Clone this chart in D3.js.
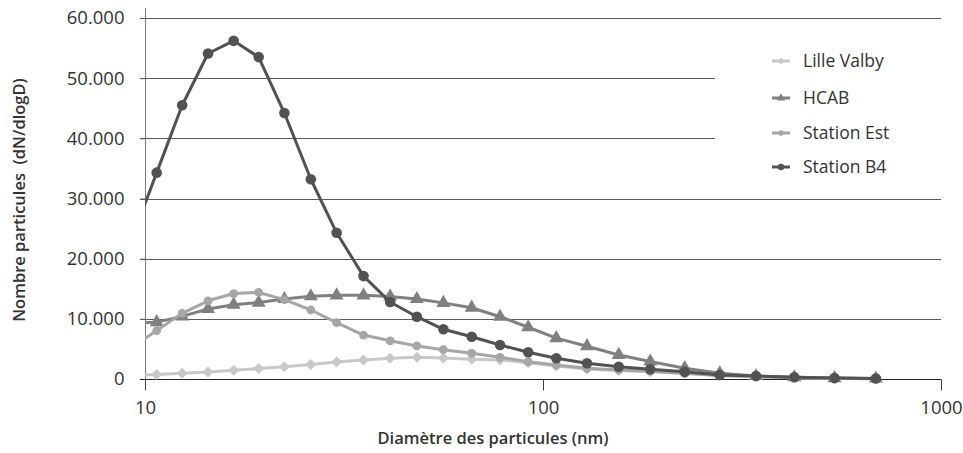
<!DOCTYPE html>
<html>
<head>
<meta charset="utf-8">
<script src="https://cdn.jsdelivr.net/npm/d3@7"></script>
<style>
  html, body { margin: 0; padding: 0; background: #fff; }
  svg { display: block; font-family: "Open Sans", "Noto Sans", sans-serif; }
</style>
</head>
<body>
<svg id="chart" width="963" height="453"></svg>
<script>
// Particle size distribution
const diameters = [9.19, 10.7, 12.4, 14.4, 16.7, 19.3, 22.4, 26.1, 30.3, 35.4, 41.3, 48.2, 56.2,
  66.2, 78, 91.8, 108, 129, 155, 186, 227, 278, 343, 428, 540, 686];

const lilleValby = [550, 750, 950, 1150, 1450, 1750, 2050, 2400, 2830, 3160, 3440, 3600, 3500,
  3270, 3160, 2710, 2160, 1660, 1400, 1200, 900, 580, 380, 200, 100, 50];
const hcab = [9300, 9450, 10400, 11650, 12350, 12700, 13300, 13750, 13900, 13900, 13700, 13300, 12650,
  11850, 10350, 8600, 6800, 5450, 4000, 2900, 1800, 950, 500, 280, 150, 80];
const stationEst = [5100, 8050, 10920, 13000, 14200, 14380, 13200, 11470, 9360, 7300, 6350, 5500, 4870,
  4270, 3600, 2880, 2330, 1780, 1500, 1300, 950, 600, 400, 220, 120, 60];
const stationB4 = [22700, 34300, 45500, 54100, 56200, 53500, 44200, 33200, 24300, 17100, 12800, 10350, 8260,
  7030, 5650, 4440, 3440, 2610, 2040, 1610, 1210, 660, 500, 280, 150, 80];

const yTicks = [0, 10000, 20000, 30000, 40000, 50000, 60000];
const xTicks = [10, 100, 1000];

const series = [
  { name: 'Lille Valby', values: lilleValby, color: '#c8c8c8', marker: 'diamond' },
  { name: 'HCAB', values: hcab, color: '#808080', marker: 'triangle' },
  { name: 'Station Est', values: stationEst, color: '#a6a6a6', marker: 'circleSmall' },
  { name: 'Station B4', values: stationB4, color: '#525252', marker: 'circle' },
];

const svg = d3.select('#chart');

const x = d3.scaleLog().domain([10, 1000]).range([145, 941]);
const y = d3.scaleLinear().domain([0, 60000]).range([379, 18]);

const fmt = d3.formatLocale({ decimal: ',', thousands: '.', grouping: [3], currency: ['', ''] }).format(',d');

// Gridlines (the two under the legend stop short of it)
svg.append('g').selectAll('line')
  .data(yTicks.filter(t => t > 0))
  .join('line')
  .attr('x1', 140)
  .attr('x2', d => (d === 40000 || d === 50000) ? 715 : 941)
  .attr('y1', d => Math.round(y(d)) + 0.5)
  .attr('y2', d => Math.round(y(d)) + 0.5)
  .attr('stroke', '#5a5a5a')
  .attr('stroke-width', 1);

// Y axis
const yAxis = svg.append('g')
  .attr('transform', 'translate(145.5,0)')
  .call(d3.axisLeft(y).tickValues(yTicks).tickFormat(fmt).tickSize(5).tickPadding(16));
yAxis.select('.domain').attr('d', 'M0,8V389').attr('stroke', '#7a7a7a');
yAxis.selectAll('.tick line').attr('stroke', '#5a5a5a');
yAxis.selectAll('.tick text')
  .attr('font-size', 18.5).attr('fill', '#333').attr('font-family', '"Open Sans", sans-serif');

// X axis
const xAxis = svg.append('g')
  .attr('transform', 'translate(0,379.5)')
  .call(d3.axisBottom(x).tickValues(xTicks).tickFormat(d3.format('d')).tickSize(11).tickPadding(10));
xAxis.select('.domain').attr('d', 'M140,0H941').attr('stroke', '#222');
xAxis.selectAll('.tick line').attr('stroke', '#444');
xAxis.selectAll('.tick text')
  .attr('font-size', 18.5).attr('fill', '#333').attr('font-family', '"Open Sans", sans-serif');

// Axis titles
svg.append('text')
  .attr('x', 493).attr('y', 444)
  .attr('text-anchor', 'middle')
  .attr('font-size', 16.5).attr('font-weight', 600).attr('fill', '#333')
  .text('Diamètre des particules (nm)');

svg.append('text')
  .attr('transform', 'translate(25,200) rotate(-90)')
  .attr('text-anchor', 'middle')
  .attr('font-size', 16.5).attr('font-weight', 600).attr('fill', '#333')
  .attr('xml:space', 'preserve')
  .style('white-space', 'pre')
  .text('Nombre particules  (dN/dlogD)');

// Clip lines at the plot area
svg.append('defs').append('clipPath').attr('id', 'plot-clip')
  .append('rect').attr('x', 145).attr('y', 0).attr('width', 800).attr('height', 400);

const line = d3.line()
  .x((d, i) => x(diameters[i]))
  .y(d => y(d));

function drawMarker(sel, type, color, scale) {
  const s = scale || 1;
  if (type === 'circle') {
    sel.append('circle').attr('r', 5.3 * s).attr('fill', color);
  } else if (type === 'circleSmall') {
    sel.append('circle').attr('r', 4.4 * s).attr('fill', color);
  } else if (type === 'triangle') {
    sel.append('path').attr('d', d3.symbol(d3.symbolTriangle, 85 * s * s)()).attr('fill', color);
  } else if (type === 'diamond') {
    const r = 5.5 * s;
    sel.append('path').attr('d', `M0,${-r}L${r},0L0,${r}L${-r},0Z`).attr('fill', color);
  }
}

const plot = svg.append('g').attr('clip-path', 'url(#plot-clip)');

series.forEach(s => {
  const g = plot.append('g');
  g.append('path')
    .datum(s.values)
    .attr('d', line)
    .attr('fill', 'none')
    .attr('stroke', s.color)
    .attr('stroke-width', 3)
    .attr('stroke-linejoin', 'round');

  g.selectAll('g.pt')
    .data(s.values.slice(1))
    .join('g')
    .attr('class', 'pt')
    .attr('transform', (d, i) => `translate(${x(diameters[i + 1])},${y(d)})`)
    .each(function () { drawMarker(d3.select(this), s.marker, s.color); });
});

// Legend
const legendRows = [61, 98, 133, 167];
const legend = svg.append('g');
legend.append('rect')
  .attr('x', 716).attr('y', 30).attr('width', 225).attr('height', 158)
  .attr('fill', '#fff');

series.forEach((s, i) => {
  const row = legend.append('g').attr('transform', `translate(0,${legendRows[i]})`);
  row.append('line')
    .attr('x1', 772).attr('x2', 790)
    .attr('stroke', s.color).attr('stroke-width', 3);
  const m = row.append('g').attr('transform', 'translate(781,0)');
  drawMarker(m, s.marker, s.color, 0.6);
  row.append('text')
    .attr('x', 803).attr('y', 0).attr('dy', '0.35em')
    .attr('font-size', 17.5).attr('fill', '#333')
    .text(s.name);
});
</script>
</body>
</html>
